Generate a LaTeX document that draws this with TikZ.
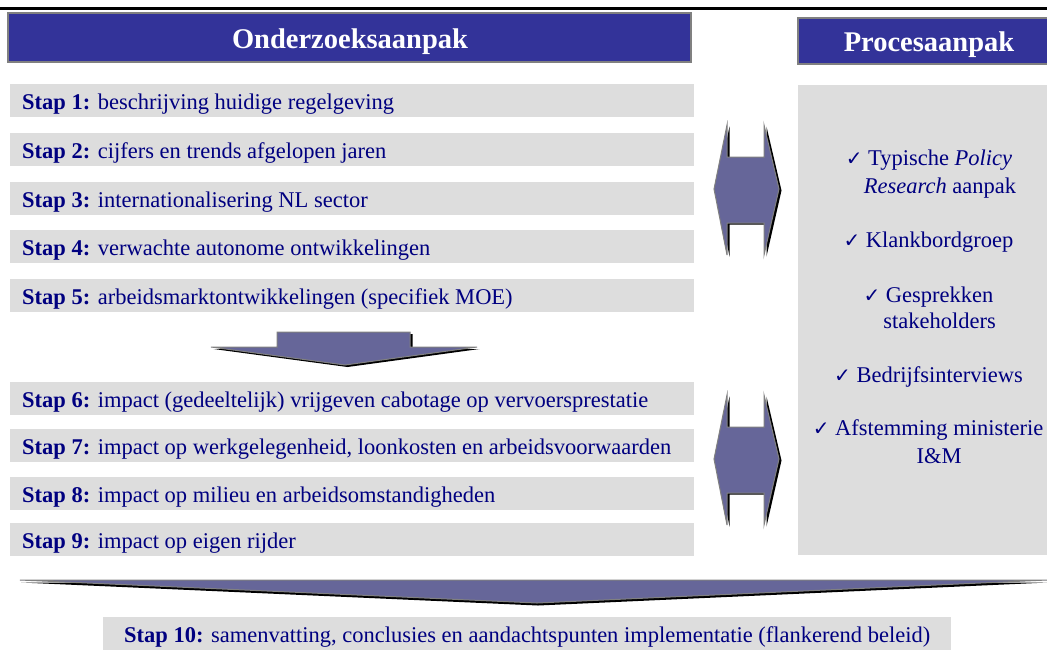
\documentclass[tikz,border=0pt]{standalone}
\usepackage{fontspec}
\setmainfont{Liberation Serif}
\newfontfamily\dejavu{DejaVu Sans}
\definecolor{navy}{RGB}{0,0,128}
\definecolor{hdrblue}{HTML}{333399}
\definecolor{arrowfill}{HTML}{666699}
\definecolor{bargray}{HTML}{DDDDDD}
\definecolor{edgegray}{HTML}{808080}
\newcommand{\chk}{{\dejavu\fontsize{20}{20}\selectfont ✓}}
\begin{document}
\begin{tikzpicture}[x=1pt,y=-1pt,
  hdr/.style={fill=hdrblue,draw=edgegray,line width=1.2pt},
  hdrtext/.style={text=white,font=\fontsize{28.5}{30}\selectfont\bfseries,inner sep=0pt,anchor=base},
  bar/.style={fill=bargray,draw=none},
  steptext/.style={anchor=base west,text=navy,font=\fontsize{22.5}{26}\selectfont,inner sep=0pt},
  proctext/.style={anchor=base,text=navy,font=\fontsize{22.5}{26}\selectfont,inner sep=0pt},
  arr/.style={fill=arrowfill,draw=edgegray,line width=1pt,line join=miter},
  shad/.style={fill=black,draw=none}]
\useasboundingbox (0,0) rectangle (1047,649);
% top rule
\draw[line width=3pt] (0,8.5) -- (1047,8.5);
% headers
\path[hdr] (8,13) rectangle (691,62);
\node[hdrtext] (h1) at (350,48) {Onderzoeksaanpak};
\path[hdr] (798,18) rectangle (1052,64);
\node[hdrtext] (h2) at (929,51) {Procesaanpak};
% step bars
\foreach \t/\n/\lbl in {84/s1/{\textbf{Stap 1:} beschrijving huidige regelgeving},
  133/s2/{\textbf{Stap 2:} cijfers en trends afgelopen jaren},
  182/s3/{\textbf{Stap 3:} internationalisering NL sector},
  230/s4/{\textbf{Stap 4:} verwachte autonome ontwikkelingen},
  279/s5/{\textbf{Stap 5:} arbeidsmarktontwikkelingen (specifiek MOE)},
  382/s6/{\textbf{Stap 6:} impact (gedeeltelijk) vrijgeven cabotage op vervoersprestatie},
  429/s7/{\textbf{Stap 7:} impact op werkgelegenheid, loonkosten en arbeidsvoorwaarden},
  477/s8/{\textbf{Stap 8:} impact op milieu en arbeidsomstandigheden},
  523/s9/{\textbf{Stap 9:} impact op eigen rijder}}{
  \path[bar] (10,\t) rectangle (694,\t+33);
  \node[steptext] (\n) at (22,\t+25) {\lbl};
}
% process panel
\path[bar] (798,85) rectangle (1047,555);
\node[proctext] (p1a) at (929,165) {\chk\ Typische \textit{Policy}};
\node[proctext] (p1b) at (940,193) {\textit{Research} aanpak};
\node[proctext] (p2) at (928.5,247) {\chk\ Klankbordgroep};
\node[proctext] (p3a) at (928.5,302) {\chk\ Gesprekken};
\node[proctext] (p3b) at (939.5,328) {stakeholders};
\node[proctext] (p4) at (928.5,382) {\chk\ Bedrijfsinterviews};
\node[proctext] (p5a) at (928,435) {\chk\ Afstemming ministerie};
\node[proctext] (p5b) at (939,463) {I\&M};
% double arrows
\foreach \yo in {0,270}{
  \begin{scope}[shift={(2.5,1.5)}]
  \path[shad] (714,189+\yo) -- (727,125+\yo) -- (727,157+\yo) -- (764,157+\yo) -- (764,125+\yo)
    -- (779,189+\yo) -- (764,255+\yo) -- (764,223+\yo) -- (727,223+\yo) -- (727,255+\yo) -- cycle;
  \end{scope}
  \path[arr] (714,189+\yo) -- (727,125+\yo) -- (727,157+\yo) -- (764,157+\yo) -- (764,125+\yo)
    -- (779,189+\yo) -- (764,255+\yo) -- (764,223+\yo) -- (727,223+\yo) -- (727,255+\yo) -- cycle;
}
% middle down arrow
\begin{scope}[shift={(2.5,2)}]
\path[shad] (277,332) -- (410,332) -- (410,347) -- (477,347) -- (345,365) -- (211,347) -- (277,347) -- cycle;
\end{scope}
\path[arr] (277,332) -- (410,332) -- (410,347) -- (477,347) -- (345,365) -- (211,347) -- (277,347) -- cycle;
% bottom wide arrow
\begin{scope}[shift={(1,2.5)}]
\path[shad] (20,580) -- (1047,580) -- (537,603) -- cycle;
\end{scope}
\path[arr] (20,580) -- (1047,580) -- (537,603) -- cycle;
% step 10
\path[bar] (103,617) rectangle (951,652);
\node[steptext] (s10) at (124,642) {\textbf{Stap 10:} samenvatting, conclusies en aandachtspunten implementatie (flankerend beleid)};
\end{tikzpicture}
\end{document}
